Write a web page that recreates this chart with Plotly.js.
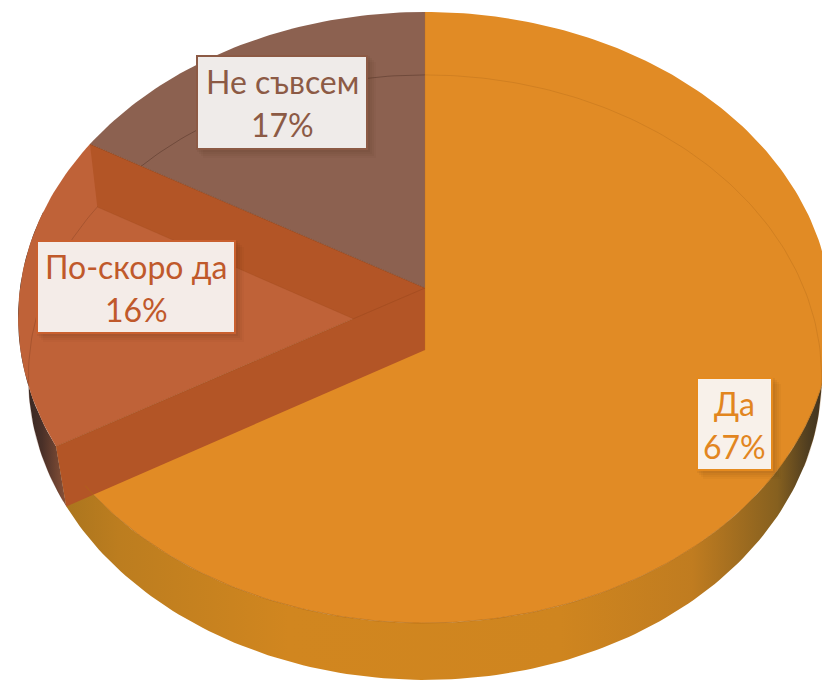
<!DOCTYPE html>
<html>
<head>
<meta charset="utf-8">
<script src="https://cdn.plot.ly/plotly-3.0.1.min.js"></script>
<style>html,body{margin:0;padding:0;background:#fff}#chart{width:822px;height:680px}</style>
</head>
<body>
<div id="chart"></div>
<script>
const categories = ["Да", "По-скоро да", "Не съвсем"];
const values = [66.7, 16.6, 16.7];
const percentLabels = ["67%", "16%", "17%"];
const sliceColors = ["#E18B25", "#BF6238", "#8C6150"];
const bandColor = "#B35526";
const labelFills = ["#F8F1EA", "#F4ECE8", "#EFEBE9"];
const labelInk = ["#E2861F", "#C0592B", "#8C5A45"];
const labelEdges = ["#E58A1E", "#C9602F", "#8C5A45"];
const labelBoxes = [[697, 772, 378, 470], [37, 235, 241, 333], [197, 367, 56, 149]];

// Perspective projection of the two discs of the 3D pie onto the axes
const topDisc = {cx: 425, cy: 288, a: 405, b: 302.7, k: 0.0966};
const botDisc = {cx: 425, cy: 350, a: 395, b: 300, k: 0.0906};
function proj(d, deg) {
  const t = deg * Math.PI / 180, w = 1 + d.k * Math.cos(t);
  return [d.cx + d.a * Math.sin(t) / w, d.cy - d.b * Math.cos(t) / w];
}
function arc(d, from, to) {
  const pts = [], n = Math.max(2, Math.ceil(Math.abs(to - from)));
  for (let i = 0; i <= n; i++) pts.push(proj(d, from + (to - from) * i / n));
  return pts;
}
const total = values.reduce((s, v) => s + v, 0);
const cuts = [0];
values.forEach(v => cuts.push(cuts[cuts.length - 1] + v / total * 360));
const apexT = [topDisc.cx, topDisc.cy], apexB = [botDisc.cx, botDisc.cy];

function poly(name, pts, fill, extra) {
  return Object.assign({
    type: "scatter", mode: "lines", name: name,
    x: pts.map(p => p[0]).concat([pts[0][0]]),
    y: pts.map(p => p[1]).concat([pts[0][1]]),
    fill: "toself", fillcolor: fill, line: {width: 0, color: fill}, hoverinfo: "skip"
  }, extra || {});
}
function curve(name, pts, color, width) {
  return {type: "scatter", mode: "lines", name: name, x: pts.map(p => p[0]), y: pts.map(p => p[1]),
    line: {color: color, width: width}, hoverinfo: "skip"};
}
function hGrad(stops) { return {type: "horizontal", colorscale: stops}; }

const wallFront = arc(topDisc, 95, cuts[1]).concat(arc(botDisc, cuts[1], 95));
const wallSide = arc(topDisc, cuts[1], 285).concat(arc(botDisc, 285, cuts[1]));

const traces = [
  poly("Стена", wallFront, "#D0851F", {fillgradient: hGrad([
    [0, "#A8741E"], [0.08, "#BC7D1F"], [0.3, "#D1861F"], [0.65, "#CF851F"],
    [0.82, "#C07C20"], [0.93, "#86601F"], [0.97, "#4F3D20"], [1, "#332A1E"]])}),
  poly("Стена 2", wallSide, "#5A3A30", {fillgradient: hGrad([
    [0, "#2A2320"], [0.5, "#4A3028"], [1, "#8A5238"]])}),
  poly(categories[0], [apexT].concat(arc(topDisc, cuts[0], cuts[1])), sliceColors[0]),
  poly(categories[1], [apexT].concat(arc(topDisc, cuts[1], cuts[2])), sliceColors[1]),
  poly(categories[2], [apexT].concat(arc(topDisc, cuts[2], cuts[3])), sliceColors[2]),
  curve("Дъга 1", arc(botDisc, 0, 112), "rgba(150,85,20,0.28)", 0.8),
  curve("Дъга 2", arc(botDisc, cuts[1] + 1, cuts[2]), "rgba(90,40,20,0.3)", 0.8),
  curve("Дъга 3", arc(botDisc, cuts[2], 360), "rgba(50,25,15,0.4)", 0.8),
  poly("Грань 1", [apexT, proj(topDisc, cuts[2]), proj(botDisc, cuts[2]), apexB], bandColor),
  curve("Ръб 4", [proj(botDisc, cuts[2]), apexB], "rgba(150,70,30,0.35)", 0.6),
  poly("Грань 2", [apexT, proj(topDisc, cuts[1]), proj(botDisc, cuts[1]), apexB], bandColor),
  curve("Ръб 1", arc(topDisc, 90, cuts[1] - 8), "rgba(175,105,20,0.8)", 0.8),
  curve("Ръб 2", [proj(topDisc, cuts[2]), apexT], "rgba(110,55,25,0.6)", 0.7),
  curve("Ръб 3", [proj(topDisc, cuts[1]), apexT], "rgba(150,70,30,0.6)", 0.7),
  curve("Ръб 5", [proj(topDisc, 0), apexB], "rgba(190,110,30,0.5)", 0.6)
];

const shapes = [], annotations = [];
values.forEach((v, i) => {
  const [x0, x1, y0, y1] = labelBoxes[i];
  [[9, 0.03], [7, 0.04], [5, 0.05], [3, 0.06]].forEach(([o, al]) => {
    shapes.push({type: "rect", layer: "above", xref: "x", yref: "y",
      x0: x0 + o - 3, x1: x1 + o, y0: y0 + o - 3, y1: y1 + o,
      fillcolor: "rgba(60,30,10," + al + ")", line: {width: 0}});
  });
  shapes.push({type: "rect", layer: "above", xref: "x", yref: "y", x0, x1, y0, y1,
    fillcolor: labelFills[i], line: {color: labelEdges[i], width: 2}});
  const yc = (y0 + y1) / 2;
  [[categories[i], -21], [percentLabels[i], 22]].forEach(([txt, dy]) => {
    annotations.push({
      x: (x0 + x1) / 2, y: yc + dy, xref: "x", yref: "y", showarrow: false,
      xanchor: "center", yanchor: "middle", align: "center", text: txt,
      font: {family: "Lato, 'Open Sans', sans-serif", size: 32, color: labelInk[i]}
    });
  });
});

Plotly.newPlot("chart", traces, {
  width: 822, height: 680, margin: {l: 0, r: 0, t: 0, b: 0},
  paper_bgcolor: "#fff", plot_bgcolor: "#fff", showlegend: false, hovermode: false,
  xaxis: {range: [0, 822], visible: false, fixedrange: true},
  yaxis: {range: [680, 0], visible: false, fixedrange: true},
  shapes: shapes, annotations: annotations
}, {displayModeBar: false, staticPlot: true});
</script>
</body>
</html>
